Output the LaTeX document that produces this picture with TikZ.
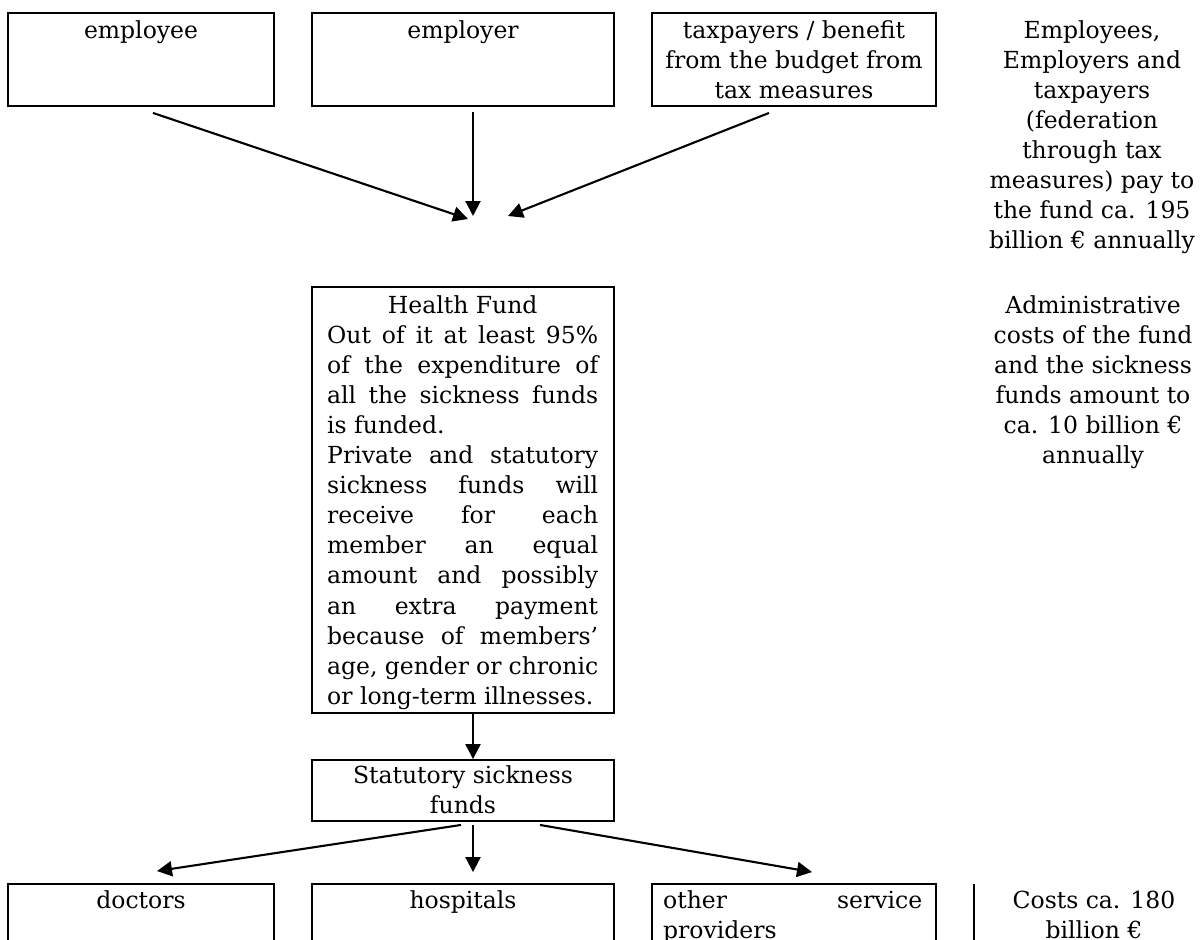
\documentclass[tikz,border=0pt]{standalone}
\usepackage{fontspec}
\setmainfont{DejaVu Serif}
\usetikzlibrary{arrows.meta}
\tikzset{
  box/.style={draw, line width=1.9pt, inner sep=0pt, anchor=center},
  txt/.style={inner sep=0pt, anchor=base},
  arr/.style={line width=2.1pt, -{Triangle[length=15pt,width=15pt]}},
  every node/.style={font=\fontsize{23.5}{30}\selectfont},
}
\newcommand\mlines[2]{\begin{tabular}[t]{@{}#1@{}}#2\end{tabular}}
\newcommand\jl[1]{\makebox[271pt][s]{#1}}
\begin{document}
\begin{tikzpicture}[x=1pt,y=-1pt]
\fill[white] (0,0) rectangle (1203,940);
\useasboundingbox (0,0) rectangle (1203,940);
\clip (0,0) rectangle (1203,940);

% top row boxes
\node[box, minimum width=266pt, minimum height=93pt] (emp) at (141,59.5) {};
\node[box, minimum width=302pt, minimum height=93pt] (empr) at (463,59.5) {};
\node[box, minimum width=284pt, minimum height=93pt] (tax) at (794,59.5) {};
\node[txt] (emptxt) at (141,38) {employee};
\node[txt] (emprtxt) at (463,38) {employer};
\node[txt] (taxtxt) at (794,38) {\mlines{c}{taxpayers / benefit\\from the budget from\\tax measures}};

% right column texts
\node[txt] (note1) at (1092,38) {\mlines{c}{Employees,\\Employers and\\taxpayers\\(federation\\through tax\\measures) pay to\\the fund ca. 195\\billion € annually}};
\node[txt] (note2) at (1093,313) {\mlines{c}{Administrative\\costs of the fund\\and the sickness\\funds amount to\\ca. 10 billion €\\annually}};

% merge points
\coordinate (m1) at (468,219);
\coordinate (m2) at (473,216);
\coordinate (m3) at (508,216);
\draw[arr] ([shift={(12,6)}]emp.south) -- (m1);
\draw[arr] ([shift={(10,5)}]empr.south) -- (m2);
\draw[arr] ([shift={(-25,6)}]tax.south) -- (m3);

% health fund
\node[box, minimum width=302pt, minimum height=426pt] (hf) at (463,500) {};
\node[txt, anchor=base west] (hftxt) at (327,313) {\fontsize{23.5}{30.1}\selectfont\mlines{l}{%
\makebox[271pt][c]{Health Fund}\\
\jl{Out of it at least 95\%}\\
\jl{of the expenditure of}\\
\jl{all the sickness funds}\\
is funded.\\
\jl{Private and statutory}\\
\jl{sickness funds will}\\
\jl{receive for each}\\
\jl{member an equal}\\
\jl{amount and possibly}\\
\jl{an extra payment}\\
\jl{because of members’}\\
\jl{age, gender or chronic}\\
or long-term illnesses.}};

% statutory sickness funds
\node[box, minimum width=302pt, minimum height=61pt] (ssf) at (463,790.5) {};
\node[txt] (ssftxt) at (463,783) {\mlines{c}{Statutory sickness\\funds}};
\draw[arr] ([xshift=10pt]hf.south) -- ([xshift=10pt]ssf.north);

% bottom row
\node[box, minimum width=266pt, minimum height=96pt] (doc) at (141,932) {};
\node[box, minimum width=302pt, minimum height=96pt] (hos) at (463,932) {};
\node[box, minimum width=284pt, minimum height=96pt] (oth) at (794,932) {};
\node[txt] (doctxt) at (141,908) {doctors};
\node[txt] (hostxt) at (463,908) {hospitals};
\node[txt, anchor=base west] (othtxt) at (663,908) {\mlines{l}{\makebox[259pt][s]{other service}\\providers}};
\coordinate (vl1) at (974,884);
\coordinate (vl2) at (974,980);
\draw[line width=1.9pt] (vl1) -- (vl2);
\node[txt] (coststxt) at (1094,908) {\mlines{c}{Costs ca. 180\\billion €}};

\draw[arr] ([shift={(-2,3)}]ssf.south) -- ([shift={(16,-12)}]doc.north);
\draw[arr] ([shift={(10,3)}]ssf.south) -- ([shift={(10,-11)}]hos.north);
\draw[arr] ([shift={(77,3)}]ssf.south) -- ([shift={(18,-11)}]oth.north);
\end{tikzpicture}
\end{document}
